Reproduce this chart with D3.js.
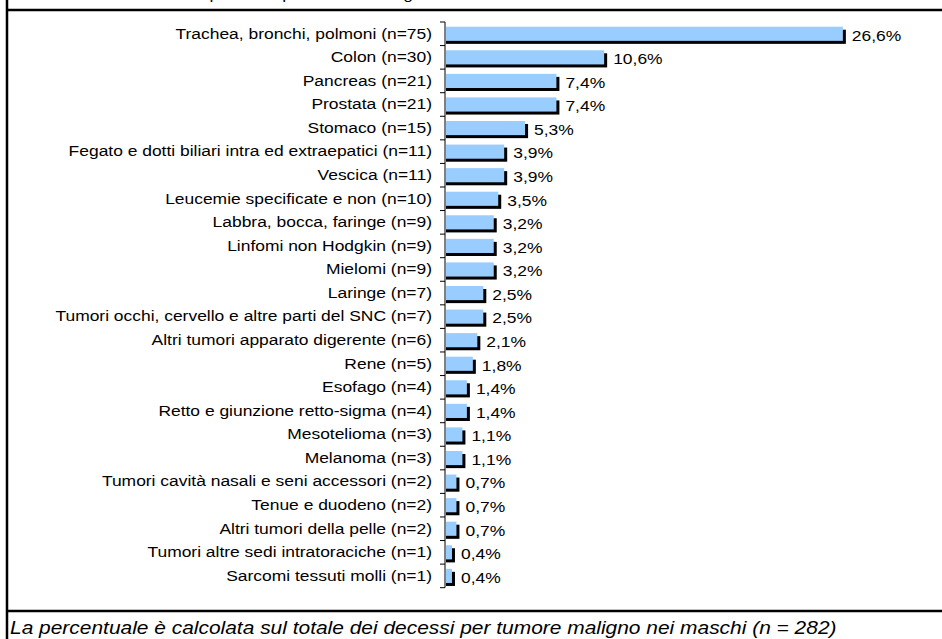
<!DOCTYPE html>
<html>
<head>
<meta charset="utf-8">
<script src="https://d3js.org/d3.v7.min.js"></script>
<style>
body { margin: 0; background: #fff; }
svg { display: block; font-family: "Liberation Sans", Arial, sans-serif; }
</style>
</head>
<body>
<svg class="chart"></svg>
<script>
var width = 942;
var height = 639;

// sedi tumorali, numero decessi e percentuale
var sedi = ["Trachea, bronchi, polmoni", "Colon", "Pancreas", "Prostata", "Stomaco",
    "Fegato e dotti biliari intra ed extraepatici", "Vescica", "Leucemie specificate e non",
    "Labbra, bocca, faringe", "Linfomi non Hodgkin", "Mielomi", "Laringe",
    "Tumori occhi, cervello e altre parti del SNC", "Altri tumori apparato digerente",
    "Rene", "Esofago", "Retto e giunzione retto-sigma", "Mesotelioma", "Melanoma",
    "Tumori cavità nasali e seni accessori", "Tenue e duodeno", "Altri tumori della pelle",
    "Tumori altre sedi intratoraciche", "Sarcomi tessuti molli"];
var casi = [75, 30, 21, 21, 15, 11, 11, 10, 9, 9, 9, 7, 7, 6, 5, 4, 4, 3, 3, 2, 2, 2, 1, 1];
var percentuali = [26.6, 10.6, 7.4, 7.4, 5.3, 3.9, 3.9, 3.5, 3.2, 3.2, 3.2, 2.5, 2.5, 2.1,
    1.8, 1.4, 1.4, 1.1, 1.1, 0.7, 0.7, 0.7, 0.4, 0.4];
var totale = 282;

var etichette = sedi.map(function(s, i) { return s + " (n=" + casi[i] + ")"; });
var righe = etichette.map(function(e, i) { return { label: e, value: percentuali[i] }; });

var axisX = 445;
var stretch = 1.163; // il testo dell'originale è allargato in orizzontale

var x = d3.scaleLinear()
    .domain([0, 30])
    .range([axisX + 1, axisX + 1 + 30 * 14.92]);

var y = d3.scaleBand()
    .domain(etichette)
    .range([22, 22 + etichette.length * 23.57])
    .paddingInner(0.4)
    .paddingOuter(0.2);

var fmt = function(v) { return d3.format(".1f")(v).replace(".", ",") + "%"; };

var chart = d3.select(".chart")
    .attr("width", width)
    .attr("height", height);

function testo(g, tx, ty, size) {
    return g.append("text")
        .attr("transform", "translate(" + tx + "," + ty + ") scale(" + stretch + ",1)")
        .style("font-size", size + "px");
}

// titolo (tagliato in alto)
testo(chart, 12, -1, 15)
    .text("Distribuzione dei decessi per sede per tumore maligno nei maschi");

// cornice
chart.append("line").attr("x1", 7).attr("x2", width).attr("y1", 10).attr("y2", 10)
    .attr("stroke", "#000").attr("stroke-width", 2.5);
chart.append("line").attr("x1", 7).attr("x2", width).attr("y1", 611).attr("y2", 611)
    .attr("stroke", "#000").attr("stroke-width", 2.5);
chart.append("line").attr("x1", 7).attr("x2", 7).attr("y1", 0).attr("y2", height)
    .attr("stroke", "#000").attr("stroke-width", 2.5);

// ombre
chart.append("g").selectAll("rect")
    .data(righe)
    .enter().append("rect")
    .attr("x", x(0))
    .attr("y", function(d) { return y(d.label) + 3; })
    .attr("width", function(d) { return x(d.value) - x(0) + 3; })
    .attr("height", y.bandwidth())
    .attr("fill", "#000");

// barre
chart.append("g").selectAll("rect")
    .data(righe)
    .enter().append("rect")
    .attr("x", x(0))
    .attr("y", function(d) { return y(d.label); })
    .attr("width", function(d) { return x(d.value) - x(0); })
    .attr("height", y.bandwidth())
    .attr("fill", "#99ccff");

// etichette valori
var gv = chart.append("g");
righe.forEach(function(d) {
    testo(gv, x(d.value) + 9, y(d.label) + y.bandwidth() / 2 + 1.5, 15)
        .attr("dy", "0.35em")
        .text(fmt(d.value));
});

// asse verticale
var axis = chart.append("g")
    .attr("transform", "translate(" + axisX + ",0)")
    .call(d3.axisLeft(y).tickSize(0).tickPadding(13));
axis.select(".domain").remove();
axis.selectAll("text")
    .attr("x", -13 / stretch)
    .attr("transform", "scale(" + stretch + ",1)")
    .style("font-family", "'Liberation Sans', Arial, sans-serif")
    .style("font-size", "15px")
    .attr("fill", "#000");

var step = y.step();
var bordi = d3.range(etichette.length + 1).map(function(i) { return y.range()[0] + i * step; });
chart.append("line")
    .attr("x1", axisX).attr("x2", axisX)
    .attr("y1", y.range()[0]).attr("y2", y.range()[1])
    .attr("stroke", "#000").attr("stroke-width", 1);
chart.append("g").selectAll("line")
    .data(bordi)
    .enter().append("line")
    .attr("x1", axisX - 5).attr("x2", axisX)
    .attr("y1", function(d) { return d; }).attr("y2", function(d) { return d; })
    .attr("stroke", "#000").attr("stroke-width", 1);

// nota
testo(chart, 10, 634, 18)
    .style("font-style", "italic")
    .text("La percentuale è calcolata sul totale dei decessi per tumore maligno nei maschi (n = " + totale + ")");
</script>
</body>
</html>
